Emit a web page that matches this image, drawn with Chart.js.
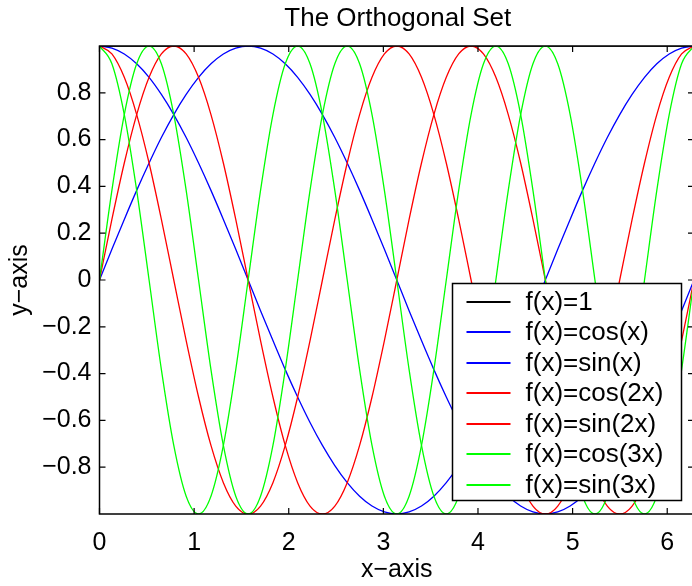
<!DOCTYPE html>
<html>
<head>
<meta charset="utf-8">
<script src="https://cdn.jsdelivr.net/npm/chart.js@4/dist/chart.umd.min.js"></script>
<style>
  html, body { margin: 0; padding: 0; background: #fff; overflow: hidden; }
</style>
</head>
<body>
<canvas id="orthoChart" width="697" height="586"></canvas>
<script>
// sample points (step of pi/24)
const xValues = [0, 0.131, 0.262, 0.393, 0.524, 0.654, 0.785, 0.916, 1.047, 1.178, 1.309, 1.44, 1.571,
  1.702, 1.833, 1.963, 2.094, 2.225, 2.356, 2.487, 2.618, 2.749, 2.88, 3.011, 3.142,
  3.272, 3.403, 3.534, 3.665, 3.796, 3.927, 4.058, 4.189, 4.32, 4.451, 4.581, 4.712,
  4.843, 4.974, 5.105, 5.236, 5.367, 5.498, 5.629, 5.76, 5.89, 6.021, 6.152, 6.283];

const oneValues = [1, 1, 1, 1, 1, 1, 1, 1, 1, 1, 1, 1, 1,
  1, 1, 1, 1, 1, 1, 1, 1, 1, 1, 1, 1,
  1, 1, 1, 1, 1, 1, 1, 1, 1, 1, 1, 1,
  1, 1, 1, 1, 1, 1, 1, 1, 1, 1, 1, 1];

const cosValues = [1, 0.991, 0.966, 0.924, 0.866, 0.793, 0.707, 0.609, 0.5, 0.383, 0.259, 0.131, 0,
  -0.131, -0.259, -0.383, -0.5, -0.609, -0.707, -0.793, -0.866, -0.924, -0.966, -0.991, -1,
  -0.991, -0.966, -0.924, -0.866, -0.793, -0.707, -0.609, -0.5, -0.383, -0.259, -0.131, 0,
  0.131, 0.259, 0.383, 0.5, 0.609, 0.707, 0.793, 0.866, 0.924, 0.966, 0.991, 1];

const sinValues = [0, 0.131, 0.259, 0.383, 0.5, 0.609, 0.707, 0.793, 0.866, 0.924, 0.966, 0.991, 1,
  0.991, 0.966, 0.924, 0.866, 0.793, 0.707, 0.609, 0.5, 0.383, 0.259, 0.131, 0,
  -0.131, -0.259, -0.383, -0.5, -0.609, -0.707, -0.793, -0.866, -0.924, -0.966, -0.991, -1,
  -0.991, -0.966, -0.924, -0.866, -0.793, -0.707, -0.609, -0.5, -0.383, -0.259, -0.131, 0];

const cos2Values = [1, 0.966, 0.866, 0.707, 0.5, 0.259, 0, -0.259, -0.5, -0.707, -0.866, -0.966, -1,
  -0.966, -0.866, -0.707, -0.5, -0.259, 0, 0.259, 0.5, 0.707, 0.866, 0.966, 1,
  0.966, 0.866, 0.707, 0.5, 0.259, 0, -0.259, -0.5, -0.707, -0.866, -0.966, -1,
  -0.966, -0.866, -0.707, -0.5, -0.259, 0, 0.259, 0.5, 0.707, 0.866, 0.966, 1];

const sin2Values = [0, 0.259, 0.5, 0.707, 0.866, 0.966, 1, 0.966, 0.866, 0.707, 0.5, 0.259, 0,
  -0.259, -0.5, -0.707, -0.866, -0.966, -1, -0.966, -0.866, -0.707, -0.5, -0.259, 0,
  0.259, 0.5, 0.707, 0.866, 0.966, 1, 0.966, 0.866, 0.707, 0.5, 0.259, 0,
  -0.259, -0.5, -0.707, -0.866, -0.966, -1, -0.966, -0.866, -0.707, -0.5, -0.259, 0];

const cos3Values = [1, 0.924, 0.707, 0.383, 0, -0.383, -0.707, -0.924, -1, -0.924, -0.707, -0.383, 0,
  0.383, 0.707, 0.924, 1, 0.924, 0.707, 0.383, 0, -0.383, -0.707, -0.924, -1,
  -0.924, -0.707, -0.383, 0, 0.383, 0.707, 0.924, 1, 0.924, 0.707, 0.383, 0,
  -0.383, -0.707, -0.924, -1, -0.924, -0.707, -0.383, 0, 0.383, 0.707, 0.924, 1];

const sin3Values = [0, 0.383, 0.707, 0.924, 1, 0.924, 0.707, 0.383, 0, -0.383, -0.707, -0.924, -1,
  -0.924, -0.707, -0.383, 0, 0.383, 0.707, 0.924, 1, 0.924, 0.707, 0.383, 0,
  -0.383, -0.707, -0.924, -1, -0.924, -0.707, -0.383, 0, 0.383, 0.707, 0.924, 1,
  0.924, 0.707, 0.383, 0, -0.383, -0.707, -0.924, -1, -0.924, -0.707, -0.383, 0];

const seriesLabels = ['f(x)=1', 'f(x)=cos(x)', 'f(x)=sin(x)', 'f(x)=cos(2x)', 'f(x)=sin(2x)', 'f(x)=cos(3x)', 'f(x)=sin(3x)'];
const seriesValues = [oneValues, cosValues, sinValues, cos2Values, sin2Values, cos3Values, sin3Values];
const seriesColors = ['#000000', '#0000ff', '#0000ff', '#ff0000', '#ff0000', '#00ff00', '#00ff00'];

const xTicks = [0, 1, 2, 3, 4, 5, 6];
const yTicks = [-0.8, -0.6, -0.4, -0.2, 0, 0.2, 0.4, 0.6, 0.8];

const FONT = 'Liberation Sans, Arial, Helvetica, sans-serif';

function minusLabel(v) {
  return v < 0 ? '\u2212' + Math.abs(v) : String(v);
}

// frame, inward ticks, title and the boxed legend, matlab style
const matlabPlugin = {
  id: 'matlab',
  afterDatasetsDraw(chart) {
    const ctx = chart.ctx;
    const area = chart.chartArea;
    const xs = chart.scales.x;
    const ys = chart.scales.y;
    const tick = 6;

    ctx.save();
    ctx.strokeStyle = '#000';
    ctx.lineWidth = 1.5;
    ctx.strokeRect(area.left, area.top, area.right - area.left, area.bottom - area.top);

    ctx.lineWidth = 1.2;
    ctx.beginPath();
    xTicks.forEach(function (v) {
      const px = xs.getPixelForValue(v);
      ctx.moveTo(px, area.bottom);
      ctx.lineTo(px, area.bottom - tick);
      ctx.moveTo(px, area.top);
      ctx.lineTo(px, area.top + tick);
    });
    yTicks.forEach(function (v) {
      const py = ys.getPixelForValue(v);
      ctx.moveTo(area.left, py);
      ctx.lineTo(area.left + tick, py);
      ctx.moveTo(area.right, py);
      ctx.lineTo(area.right - tick, py);
    });
    ctx.stroke();

    // title
    ctx.fillStyle = '#000';
    ctx.font = '26px ' + FONT;
    ctx.textAlign = 'center';
    ctx.textBaseline = 'alphabetic';
    ctx.fillText('The Orthogonal Set', (area.left + area.right) / 2 + 1, 26);

    // legend box
    const boxLeft = 452.5;
    const boxTop = 283.5;
    const boxW = 229;
    const boxH = 217;
    ctx.fillStyle = '#fff';
    ctx.fillRect(boxLeft, boxTop, boxW, boxH);
    ctx.strokeStyle = '#000';
    ctx.lineWidth = 1.5;
    ctx.strokeRect(boxLeft, boxTop, boxW, boxH);

    ctx.font = '26px ' + FONT;
    ctx.textAlign = 'left';
    ctx.textBaseline = 'middle';
    chart.data.datasets.forEach(function (ds, i) {
      const rowY = Math.round(boxTop + 18 + i * 30.5);
      ctx.strokeStyle = ds.borderColor;
      ctx.lineWidth = 1.8;
      ctx.beginPath();
      ctx.moveTo(boxLeft + 14, rowY);
      ctx.lineTo(boxLeft + 58, rowY);
      ctx.stroke();
      ctx.fillStyle = '#000';
      ctx.fillText(ds.label, boxLeft + 73, rowY + 1);
    });
    ctx.restore();
  }
};

const datasets = seriesLabels.map(function (label, i) {
  return {
    label: label,
    data: xValues.map(function (x, j) { return { x: x, y: seriesValues[i][j] }; }),
    borderColor: seriesColors[i],
    borderWidth: 1.3,
    pointRadius: 0,
    fill: false,
    cubicInterpolationMode: 'monotone',
    order: seriesLabels.length - i
  };
});

const orthoChart = new Chart(document.getElementById('orthoChart'), {
  type: 'line',
  data: { datasets: datasets },
  plugins: [matlabPlugin],
  options: {
    responsive: false,
    animation: false,
    events: [],
    layout: { padding: { top: 46, right: 3, left: 0, bottom: 0 } },
    plugins: {
      legend: { display: false },
      title: { display: false },
      tooltip: { enabled: false }
    },
    scales: {
      x: {
        type: 'linear',
        min: 0,
        max: 6.283,
        afterBuildTicks: function (scale) {
          scale.ticks = xTicks.map(function (v) { return { value: v }; });
        },
        afterFit: function (scale) { scale.height = 72; },
        grid: { display: false, drawTicks: false },
        border: { display: false },
        ticks: {
          color: '#000',
          font: { family: FONT, size: 25 },
          padding: 14,
          maxRotation: 0,
          callback: function (v) { return minusLabel(v); }
        },
        title: {
          display: true,
          text: 'x\u2212axis',
          color: '#000',
          font: { family: FONT, size: 25 },
          padding: { top: 0, bottom: 1 }
        }
      },
      y: {
        type: 'linear',
        min: -1,
        max: 1,
        afterBuildTicks: function (scale) {
          scale.ticks = yTicks.map(function (v) { return { value: v }; });
        },
        afterFit: function (scale) { scale.width = 99.5; },
        grid: { display: false, drawTicks: false },
        border: { display: false },
        ticks: {
          color: '#000',
          font: { family: FONT, size: 25 },
          padding: 8,
          callback: function (v) { return minusLabel(v); }
        },
        title: {
          display: true,
          text: 'y\u2212axis',
          color: '#000',
          font: { family: FONT, size: 25 },
          padding: { top: 5, bottom: 0 }
        }
      }
    }
  }
});
</script>
</body>
</html>
